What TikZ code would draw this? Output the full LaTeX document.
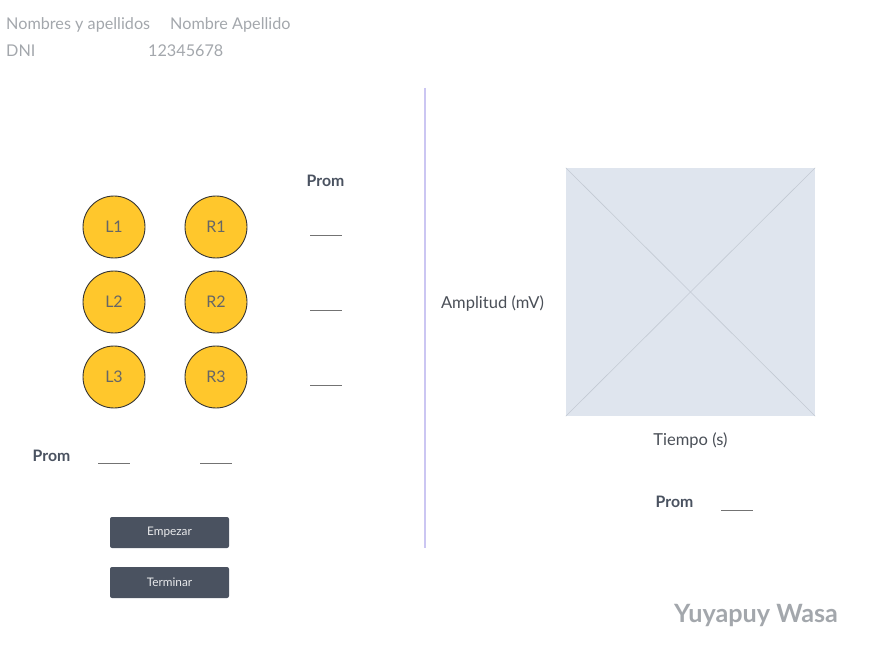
\documentclass[tikz,border=0pt]{standalone}
\usepackage{fontspec}
\setmainfont{Lato}
\definecolor{lgray}{HTML}{A3A7AC}
\definecolor{slate}{HTML}{4A5260}
\definecolor{txt}{HTML}{4A4F57}
\definecolor{yel}{HTML}{FFC72C}
\definecolor{lav}{HTML}{CBC6F2}
\definecolor{ph}{HTML}{DFE5EE}
\definecolor{phl}{HTML}{C3CAD4}
\tikzset{
  hdr/.style={text=lgray,font=\fontsize{16.2}{19}\selectfont,anchor=west,inner sep=0pt},
  led/.style={circle,draw=black!80,line width=0.9pt,fill=yel,minimum size=62pt,inner sep=0pt,text=black!60,font=\fontsize{16}{19}\selectfont},
  promlbl/.style={text=slate,font=\bfseries\fontsize{15.8}{19}\selectfont,inner sep=0pt},
  blank/.style={draw=black!55,line width=0.7pt},
  btn/.style={rounded corners=2pt,fill=slate,minimum width=119pt,minimum height=31pt,inner sep=0pt,text=white!88!slate,font=\fontsize{11.8}{14}\selectfont},
  axis/.style={text=txt,font=\fontsize{16.5}{19}\selectfont,inner sep=0pt}
}
\begin{document}
\begin{tikzpicture}[x=1pt,y=-1pt]
\useasboundingbox (0,0) rectangle (884,671);
% header
\node[hdr] (n1) at (6,24.5) {Nombres y apellidos};
\node[hdr] (n2) at (170,24.5) {Nombre Apellido};
\node[hdr] (d1) at (6,50.5) {DNI};
\node[hdr] (d2) at (148,50.5) {12345678};
% circles
\node[led] (L1) at (114,227) {\raisebox{-1pt}{L1}};
\node[led] (R1) at (216,227) {\raisebox{-1pt}{R1}};
\node[led] (L2) at (114,302) {\raisebox{-1pt}{L2}};
\node[led] (R2) at (216,302) {\raisebox{-1pt}{R2}};
\node[led] (L3) at (114,377) {\raisebox{-1pt}{L3}};
\node[led] (R3) at (216,377) {\raisebox{-1pt}{R3}};
% right column prom
\node[promlbl] (pr) at (325.5,181) {Prom};
\coordinate (a1) at (310,235); \coordinate (b1) at (342,235);
\coordinate (a2) at (310,310); \coordinate (b2) at (342,310);
\coordinate (a3) at (310,385); \coordinate (b3) at (342,385);
\draw[blank] (a1) -- (b1);
\draw[blank] (a2) -- (b2);
\draw[blank] (a3) -- (b3);
% bottom prom
\node[promlbl] (pb) at (51.5,456) {Prom};
\coordinate (c1) at (98,463); \coordinate (d1e) at (130,463);
\coordinate (c2) at (200,463); \coordinate (d2e) at (232,463);
\draw[blank] (c1) -- (d1e);
\draw[blank] (c2) -- (d2e);
% buttons
\node[btn] (emp) at (169.5,532.5) {Empezar};
\node[btn] (ter) at (169.5,582.5) {Terminar};
% divider
\coordinate (v1) at (425,88); \coordinate (v2) at (425,548);
\draw[lav,line width=1.2pt] (v1) -- (v2);
% placeholder
\node[fill=ph,minimum width=249pt,minimum height=248pt,inner sep=0pt] (img) at (690.5,292) {};
\draw[phl,line width=0.6pt] (img.north west) -- (img.south east);
\draw[phl,line width=0.6pt] (img.north east) -- (img.south west);
\node[axis] (amp) at (492.5,303.5) {Amplitud (mV)};
\node[axis] (tie) at (690.5,440.5) {Tiempo (s)};
% graph prom
\node[promlbl] (pg) at (674.5,502) {Prom};
\coordinate (e1) at (721,510); \coordinate (e2) at (753,510);
\draw[blank] (e1) -- (e2);
% brand
\node[text=lgray,font=\bfseries\fontsize{25.2}{30}\selectfont,inner sep=0pt] (brand) at (756,615) {Yuyapuy Wasa};
\end{tikzpicture}
\end{document}
